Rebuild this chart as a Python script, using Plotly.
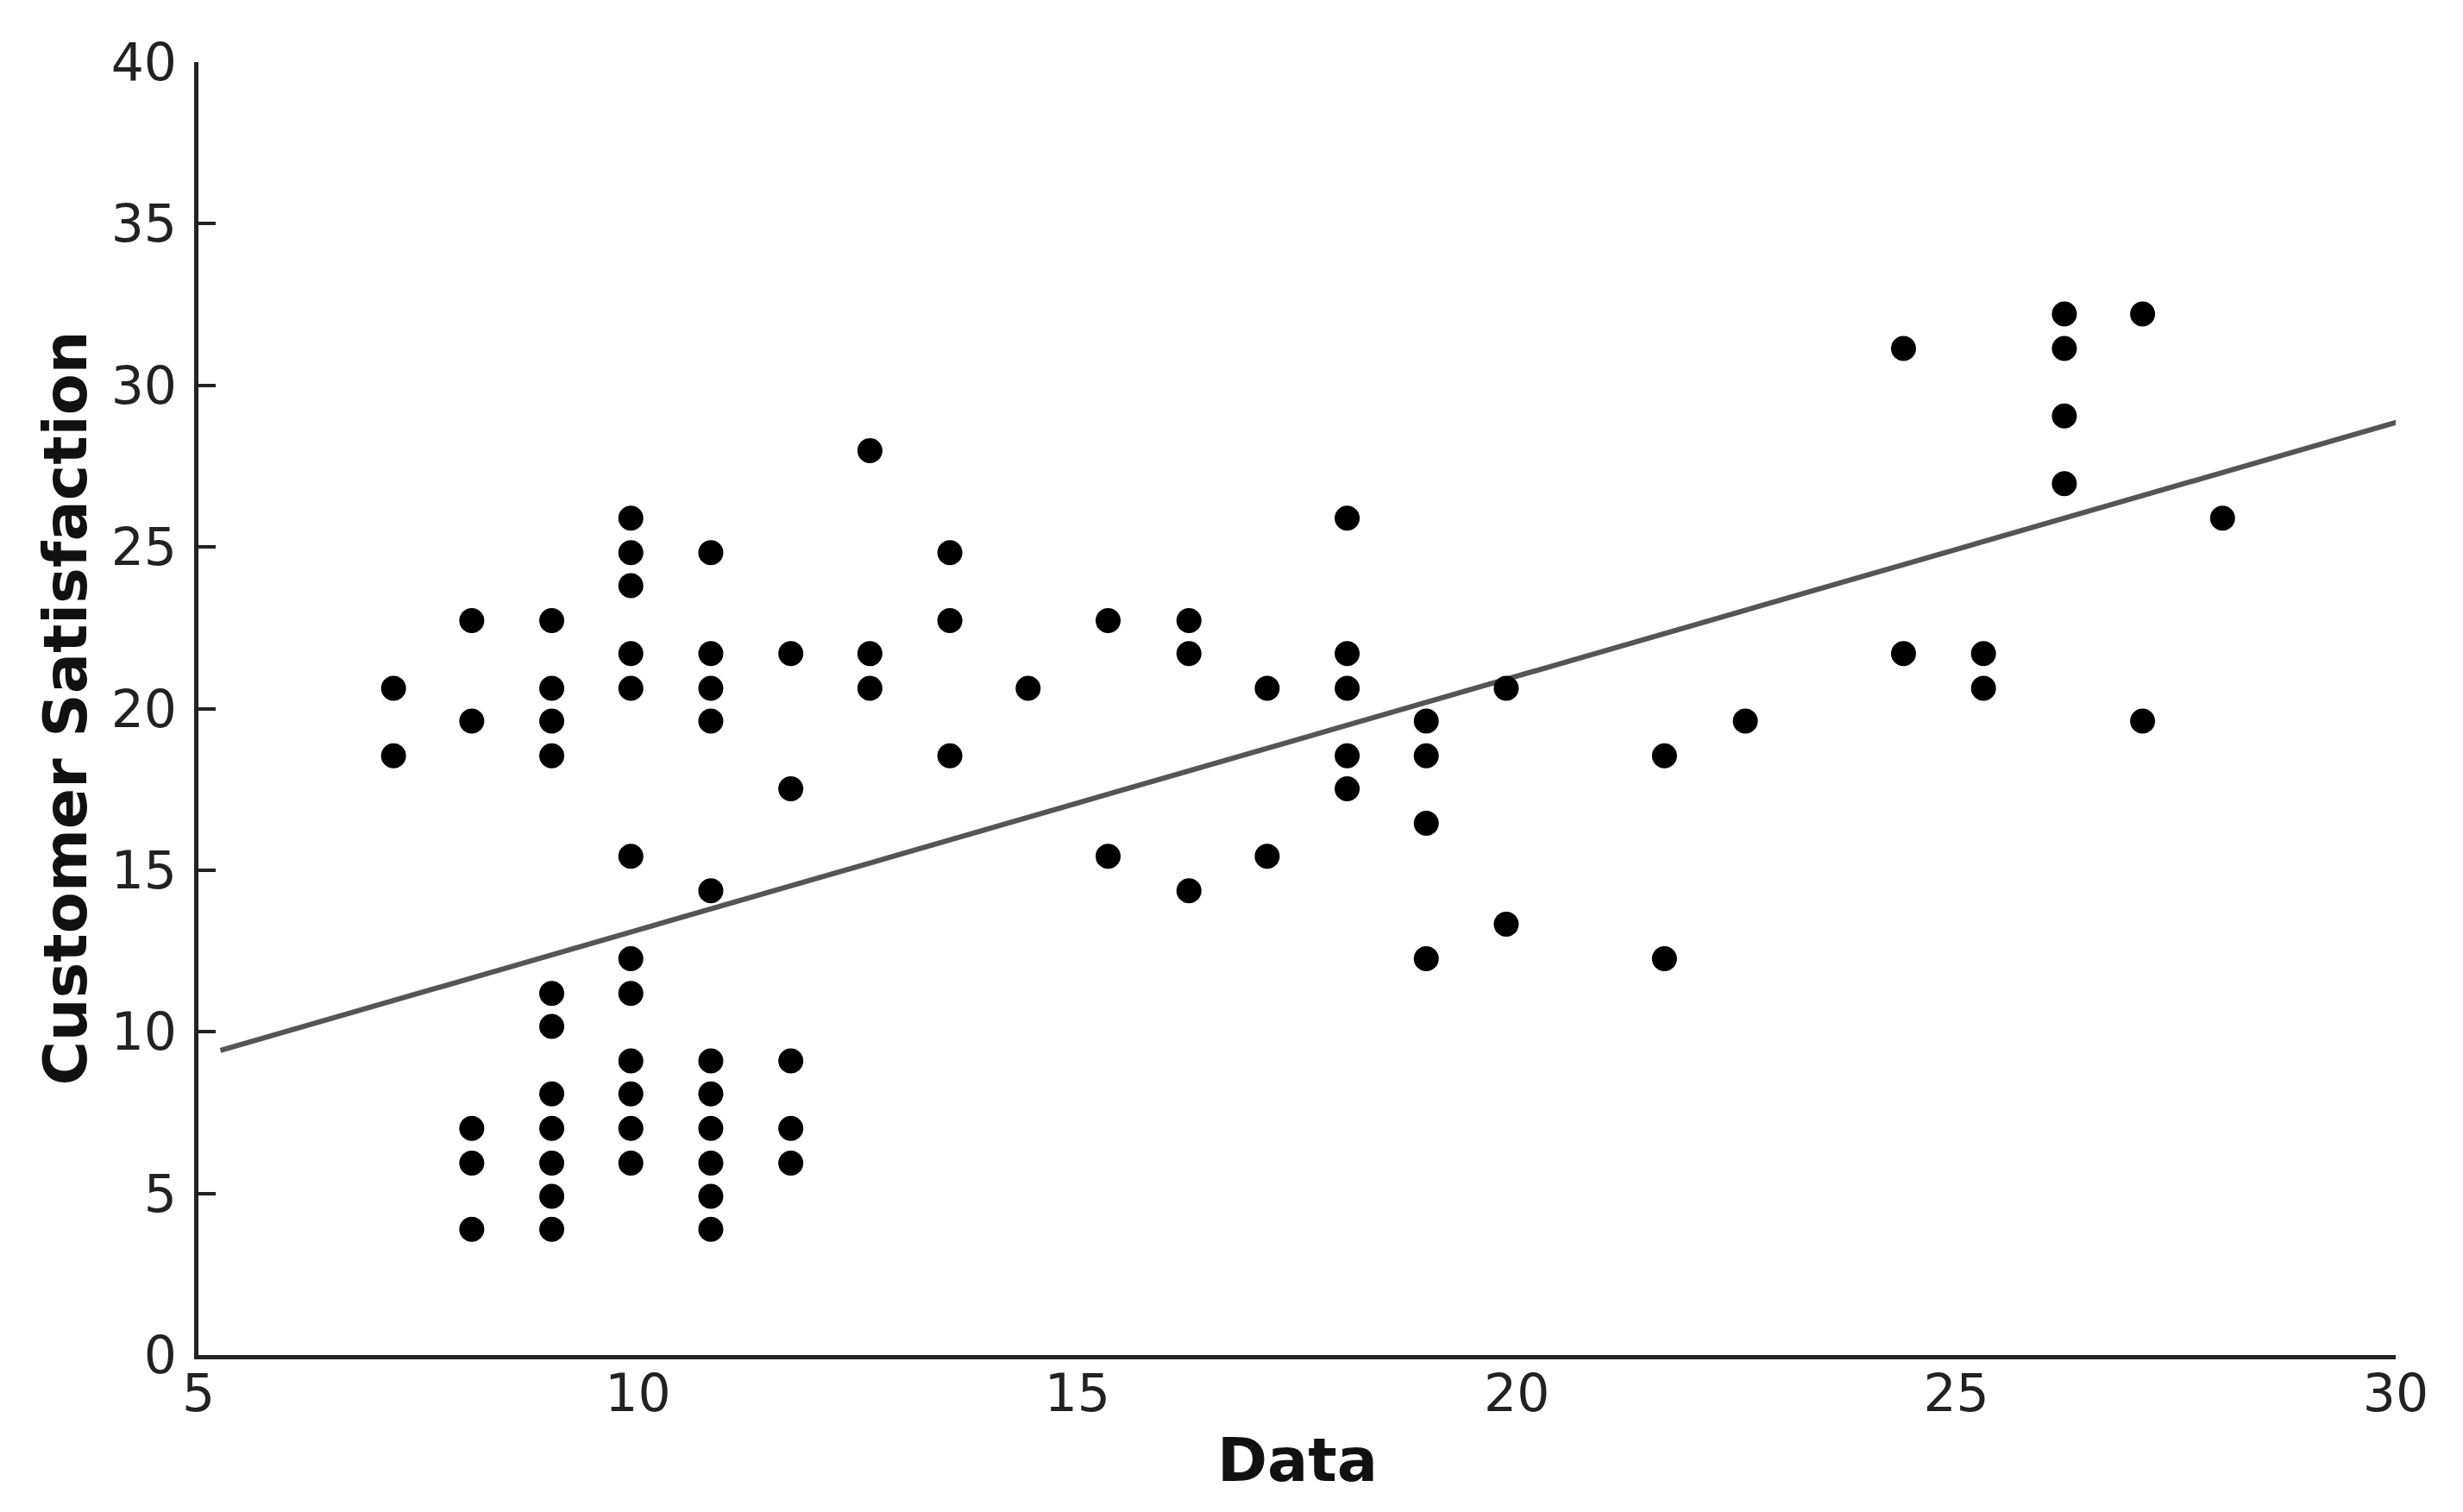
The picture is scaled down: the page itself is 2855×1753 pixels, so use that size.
import plotly.graph_objects as go

# Scatter data
data_x = (
    [7.22] * 2
    + [8.11] * 5
    + [9.02] * 11
    + [9.92] * 12
    + [10.83] * 11
    + [11.74] * 5
    + [12.64] * 3
    + [13.55] * 3
    + [14.44] * 1
    + [15.35] * 2
    + [16.27] * 3
    + [17.16] * 2
    + [18.07] * 5
    + [18.97] * 4
    + [19.88] * 2
    + [21.68] * 2
    + [22.60] * 1
    + [24.40] * 2
    + [25.31] * 2
    + [26.23] * 4
    + [27.12] * 2
    + [28.03] * 1
)
satisfaction = [
    20.63, 18.54,
    22.72, 19.61, 7.01, 5.94, 3.89,
    22.72, 20.63, 19.61, 18.54, 11.19, 10.17, 8.08, 7.01, 5.94, 4.91, 3.89,
    25.89, 24.82, 23.80, 21.70, 20.63, 15.43, 12.26, 11.19, 9.10, 8.08, 7.01, 5.94,
    24.82, 21.70, 20.63, 19.61, 14.36, 9.10, 8.08, 7.01, 5.94, 4.91, 3.89,
    21.70, 17.52, 9.10, 7.01, 5.94,
    27.98, 21.70, 20.63,
    24.82, 22.72, 18.54,
    20.63,
    22.72, 15.43,
    22.72, 21.70, 14.36,
    20.63, 15.43,
    25.89, 21.70, 20.63, 18.54, 17.52,
    19.61, 18.54, 16.45, 12.26,
    20.63, 13.33,
    18.54, 12.26,
    19.61,
    31.14, 21.70,
    21.70, 20.63,
    32.21, 31.14, 29.05, 26.96,
    32.21, 19.61,
    25.89,
]

# Trend line as shown in the reference (slope / intercept)
fit_slope = 0.785
fit_intercept = 5.30
fit_span = [5.25, 30.1]

x_ticks = [5, 10, 15, 20, 25, 30]
y_ticks = [0, 5, 10, 15, 20, 25, 30, 35, 40]

fit_x = list(fit_span)
fit_y = [fit_intercept + fit_slope * v for v in fit_x]

FONT = "DejaVu Sans"
AX = "#222222"

fig = go.Figure()
fig.add_trace(go.Scatter(
    x=fit_x, y=fit_y, mode="lines",
    line=dict(color="#555555", width=6),
    showlegend=False, hoverinfo="skip",
))
fig.add_trace(go.Scatter(
    x=data_x, y=satisfaction, mode="markers",
    marker=dict(color="black", size=29, line=dict(width=0)),
    showlegend=False,
))

fig.update_layout(
    width=2847, height=1745,
    margin=dict(l=222, r=78, t=64, b=182, autoexpand=False),
    plot_bgcolor="white", paper_bgcolor="white",
    font=dict(family=FONT, color=AX, size=60),
    xaxis=dict(
        range=[5, 30], tickvals=x_ticks, ticktext=[str(v) for v in x_ticks],
        showgrid=False, zeroline=False, automargin=False,
        showline=True, linecolor=AX, linewidth=5,
        ticks="", ticklabelstandoff=-12,
        tickfont=dict(family=FONT, size=60, color=AX),
    ),
    yaxis=dict(
        range=[0, 40], tickvals=y_ticks, ticktext=[str(v) for v in y_ticks],
        showgrid=False, zeroline=False, automargin=False,
        showline=True, linecolor=AX, linewidth=5,
        ticks="inside", ticklen=20, tickwidth=4, tickcolor=AX,
        ticklabelstandoff=8,
        tickfont=dict(family=FONT, size=60, color=AX),
    ),
    annotations=[
        dict(text="<b>Data</b>", xref="paper", yref="paper", x=0.5, y=0,
             xanchor="center", yanchor="middle", yshift=-122, showarrow=False,
             font=dict(family=FONT, size=70, color="#111111")),
        dict(text="<b>Customer Satisfaction</b>", xref="paper", yref="paper", x=0, y=0.5,
             xanchor="center", yanchor="middle", xshift=-155, textangle=-90, showarrow=False,
             font=dict(family=FONT, size=70, color="#111111")),
    ],
)

fig.write_html("out.html")
